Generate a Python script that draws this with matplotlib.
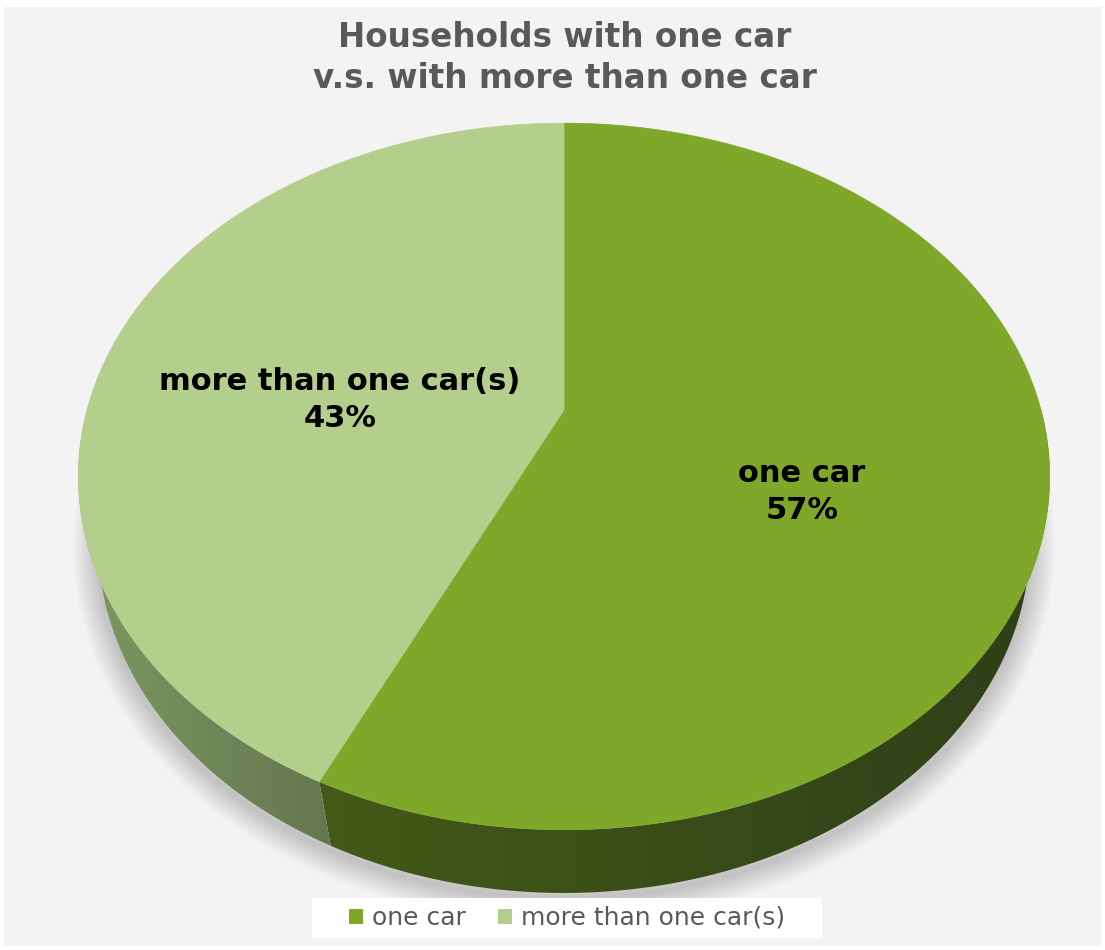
import numpy as np
import matplotlib.pyplot as plt
from matplotlib.patches import Rectangle, Polygon, Patch
from matplotlib.colors import to_rgb

categories = ['one car', 'more than one car(s)']
shares = [57, 43]
title = 'Households with one car\nv.s. with more than one car'

top_colors = ['#7fa72a', '#b4cf8c']
# side wall colour at the left and at the right end of each slice's wall
side_colors = [('#435a17', '#2f3f19'), ('#7c9861', '#66774f')]

W, H = 1105, 950
CX, CY, SCALE = 564, 410, 477          # pie centre / radius in pixels
DIST, ELEV, DEPTH = 3.72, np.radians(45.6), 0.213


def project(phi, r=1.0, z=0.0):
    # phi runs clockwise from 12 o'clock; simple perspective view from above
    x = r * np.sin(phi)
    y = r * np.cos(phi)
    v = y * np.sin(ELEV) + z * np.cos(ELEV)
    d = DIST + y * np.cos(ELEV) - z * np.sin(ELEV)
    return x * DIST / d, v * DIST / d


def px(x, y):
    return (x - CX) / SCALE, (CY - y) / SCALE


fig = plt.figure(figsize=(W / 100, H / 100), dpi=100)
fig.patch.set_facecolor('white')
fig.patches.append(Rectangle((4 / W, 1 - 946 / H), 1097 / W, 939 / H,
                             transform=fig.transFigure, facecolor='#f3f3f3',
                             edgecolor='none', zorder=-1))

ax = fig.add_axes([0, 0, 1, 1])
ax.set_xlim(-CX / SCALE, (W - CX) / SCALE)
ax.set_ylim(-(H - CY) / SCALE, CY / SCALE)
ax.axis('off')

bounds = 2 * np.pi * np.concatenate([[0], np.cumsum(shares)]) / sum(shares)

# soft shadow under the front rim
sh = np.linspace(0.36 * np.pi, 1.64 * np.pi, 200)
sx, sy = project(sh, z=-DEPTH)
for lw in range(36, 0, -3):
    ax.plot(sx, sy - 5 / SCALE, color='black', alpha=0.017, lw=lw,
            solid_capstyle='round', zorder=1)

# side wall, only the front half faces the viewer
for i in range(len(shares)):
    lo = max(bounds[i], np.pi / 2)
    hi = min(bounds[i + 1], 1.5 * np.pi)
    if hi <= lo:
        continue
    phis = np.linspace(lo, hi, 200)
    tx, ty = project(phis)
    bx, by = project(phis[::-1], z=-DEPTH)
    wall = Polygon(np.column_stack([np.r_[tx, bx], np.r_[ty, by]]),
                   closed=True, facecolor='none', edgecolor='none')
    ax.add_patch(wall)
    x0, x1 = min(tx.min(), bx.min()), max(tx.max(), bx.max())
    y0, y1 = min(ty.min(), by.min()), max(ty.max(), by.max())
    c0, c1 = np.array(to_rgb(side_colors[i][0])), np.array(to_rgb(side_colors[i][1]))
    t = np.linspace(0, 1, 256)[None, :, None]
    grad = c0 + (c1 - c0) * t
    img = ax.imshow(grad, extent=(x0, x1, y0, y1), aspect='auto',
                    interpolation='bilinear', zorder=2)
    img.set_clip_path(wall)

# top face
for i in range(len(shares)):
    phis = np.linspace(bounds[i], bounds[i + 1], 200)
    ex, ey = project(phis)
    cx, cy = project(0.0, r=0.0)
    verts = np.column_stack([np.r_[cx, ex], np.r_[cy, ey]])
    ax.add_patch(Polygon(verts, closed=True, facecolor=top_colors[i],
                         edgecolor=top_colors[i], lw=0.5, zorder=3))

ax.set_xlim(-CX / SCALE, (W - CX) / SCALE)
ax.set_ylim(-(H - CY) / SCALE, CY / SCALE)

# data labels
label_pos = [(802, 492), (340, 400)]
for cat, val, (lx, ly) in zip(categories, shares, label_pos):
    ax.text(*px(lx, ly), f'{cat}\n{val}%', ha='center', va='center',
            fontsize=22, fontweight='bold', color='black',
            linespacing=1.38, zorder=5)

fig.text(565 / W, 1 - 58 / H, title, ha='center', va='center', fontsize=23.5,
         fontweight='bold', color='#595959', linespacing=1.3)

# legend
fig.patches.append(Rectangle((312 / W, 1 - 938 / H), 510 / W, 40 / H,
                             transform=fig.transFigure, facecolor='white',
                             edgecolor='none', zorder=1))
handles = [Patch(facecolor=c, edgecolor='none') for c in top_colors]
fig.legend(handles, categories, loc='center', ncol=2,
           bbox_to_anchor=(567 / W, 1 - 918 / H), frameon=False,
           fontsize=18, labelcolor='#595959', handlelength=0.55,
           handleheight=0.55, handletextpad=0.35, columnspacing=1.3)

fig.savefig('out.png', dpi=100, facecolor=fig.get_facecolor())
